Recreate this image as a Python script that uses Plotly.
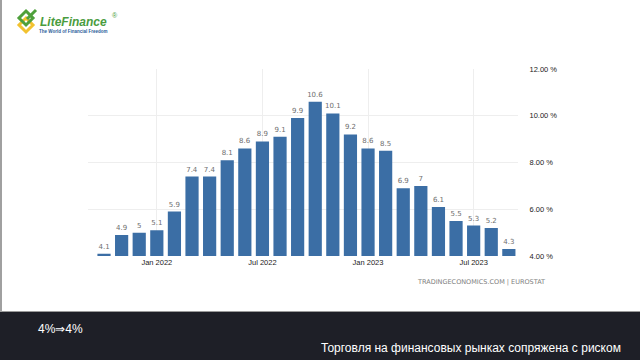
import plotly.graph_objects as go

months = ["2021-10", "2021-11", "2021-12", "2022-01", "2022-02", "2022-03", "2022-04",
          "2022-05", "2022-06", "2022-07", "2022-08", "2022-09", "2022-10", "2022-11",
          "2022-12", "2023-01", "2023-02", "2023-03", "2023-04", "2023-05", "2023-06",
          "2023-07", "2023-08", "2023-09"]
inflation = [4.1, 4.9, 5.0, 5.1, 5.9, 7.4, 7.4, 8.1, 8.6, 8.9, 9.1, 9.9, 10.6, 10.1,
             9.2, 8.6, 8.5, 6.9, 7.0, 6.1, 5.5, 5.3, 5.2, 4.3]
bar_labels = ["4.1", "4.9", "5", "5.1", "5.9", "7.4", "7.4", "8.1", "8.6", "8.9", "9.1",
              "9.9", "10.6", "10.1", "9.2", "8.6", "8.5", "6.9", "7", "6.1", "5.5", "5.3",
              "5.2", "4.3"]
x_tick_months = ["2022-01", "2022-07", "2023-01", "2023-07"]
x_tick_text = ["Jan 2022", "Jul 2022", "Jan 2023", "Jul 2023"]
y_ticks = [4, 6, 8, 10, 12]
y_tick_text = ["4.00 %", "6.00 %", "8.00 %", "10.00 %", "12.00 %"]

W, H = 640, 360
L, R, T, B = 88, 122, 69, 104
PW, PH = W - L - R, H - T - B


def px(x):
    return (x - L) / PW


def py(y):
    return (H - B - y) / PH


fig = go.Figure()
fig.add_trace(go.Bar(
    x=months, y=inflation, text=bar_labels, textposition="outside",
    constraintext="none",
    textfont=dict(size=7, color="#6e6e6e", family="DejaVu Sans"),
    marker=dict(color="#3b6ea5", line=dict(width=0)),
    cliponaxis=True, hoverinfo="skip",
))

shapes = []
# dark bottom band
shapes.append(dict(type="rect", xref="paper", yref="paper", x0=px(0), x1=px(W),
                   y0=py(H), y1=py(312), fillcolor="#1e1f27", line=dict(width=0), layer="above"))
shapes.append(dict(type="line", xref="paper", yref="paper", x0=px(0), x1=px(W),
                   y0=py(311.5), y1=py(311.5), line=dict(color="#9a9a9a", width=1)))
# left edge grey stripe
shapes.append(dict(type="rect", xref="paper", yref="paper", x0=px(0), x1=px(2),
                   y0=py(312), y1=py(0), fillcolor="#a0a0a0", line=dict(width=0)))


def diamond(cx, cy, r, color, w):
    path = (f"M {px(cx)} {py(cy - r)} L {px(cx + r)} {py(cy)} "
            f"L {px(cx)} {py(cy + r)} L {px(cx - r)} {py(cy)} Z")
    return dict(type="path", xref="paper", yref="paper", path=path,
                line=dict(color=color, width=w), fillcolor="rgba(0,0,0,0)")


shapes.append(diamond(26, 25, 7, "#f2c230", 3))
shapes.append(diamond(26, 18, 7, "#4fa03c", 3))
shapes.append(dict(type="line", xref="paper", yref="paper", x0=px(27), x1=px(36),
                   y0=py(19), y1=py(10), line=dict(color="#4fa03c", width=3)))

annotations = [
    dict(text="<i><b>LiteFinance</b></i>", x=px(38), y=py(22), xref="paper", yref="paper",
         xanchor="left", yanchor="middle", showarrow=False,
         font=dict(size=12, color="#4a9c3e", family="Liberation Sans")),
    dict(text="®", x=px(110), y=py(16), xref="paper", yref="paper",
         xanchor="left", yanchor="middle", showarrow=False,
         font=dict(size=7, color="#4a9c3e", family="Liberation Sans")),
    dict(text="<b>The World of Financial Freedom</b>", x=px(37), y=py(31), xref="paper",
         yref="paper", xanchor="left", yanchor="middle", showarrow=False,
         font=dict(size=4.5, color="#2a5d9a", family="Liberation Sans")),
    dict(text="TRADINGECONOMICS.COM | EUROSTAT", x=px(547), y=py(282), xref="paper",
         yref="paper", xanchor="right", yanchor="middle", showarrow=False,
         font=dict(size=6.5, color="#808080", family="DejaVu Sans")),
    dict(text="4%⇒4%", x=px(60), y=py(329), xref="paper", yref="paper",
         xanchor="center", yanchor="middle", showarrow=False,
         font=dict(size=12, color="#ffffff", family="Liberation Sans")),
    dict(text="Торговля на финансовых рынках сопряжена с риском", x=px(623), y=py(348),
         xref="paper", yref="paper", xanchor="right", yanchor="middle", showarrow=False,
         font=dict(size=12, color="#ffffff", family="Liberation Sans")),
]

fig.update_layout(
    width=W, height=H, margin=dict(l=L, r=R, t=T, b=B),
    paper_bgcolor="#ffffff", plot_bgcolor="#ffffff",
    showlegend=False, bargap=0.25,
    shapes=shapes, annotations=annotations,
    xaxis=dict(type="category", range=[-0.91, 23.52], tickmode="array",
               tickvals=x_tick_months, ticktext=x_tick_text, showgrid=True,
               gridcolor="#eeeeee", gridwidth=1, ticks="", showline=False, zeroline=False,
               tickfont=dict(size=7.5, color="#1a1a1a", family="Liberation Sans")),
    yaxis=dict(range=[4, 12], side="right", tickmode="array", tickvals=y_ticks,
               ticktext=y_tick_text, showgrid=True, gridcolor="#eeeeee", gridwidth=1,
               zeroline=False, showline=False, ticks="outside", ticklen=9,
               tickcolor="rgba(0,0,0,0)",
               tickfont=dict(size=7.5, color="#1a1a1a", family="Liberation Sans")),
)

fig.write_html("out.html", config={"displayModeBar": False},
               post_script="document.body.style.margin='0';document.body.style.overflow='hidden';")
